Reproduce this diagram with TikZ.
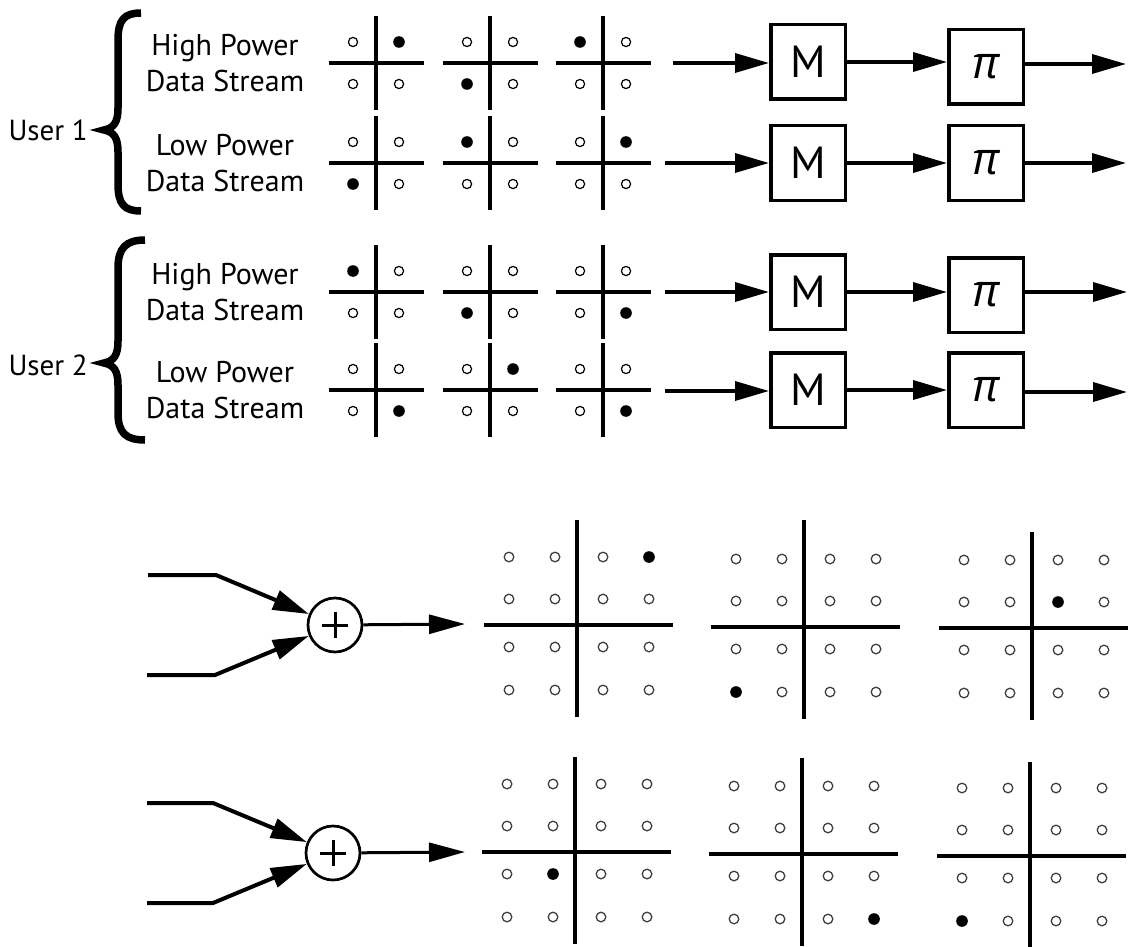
\documentclass[tikz,border=0pt]{standalone}
\usepackage{fontspec}
\setmainfont{PT Sans}
\newfontfamily\gkfont{Open Sans}
\usetikzlibrary{arrows.meta}
\newcommand\qpsk[4]{%
  \draw[qaxis] (#1-47.5,#2) -- (#1+47.5,#2);
  \draw[qaxis] (#1,#2-47) -- (#1,#2+47);
  \foreach \dx in {-23,23}{\foreach \dy in {-21,21}{\draw[odot] (#1+\dx,#2+\dy) circle[radius=4.6];}}
  \fill (#1+#3,#2+#4) circle[radius=5.8];
}
\newcommand\qam[5]{%
  \draw[maxis] (#1-93,#2) -- (#1+96,#2);
  \draw[maxis] (#1,#2-#3) -- (#1,#2+92);
  \foreach \dx in {-68,-22,26,72}{\foreach \dy in {-68,-26,22,65}{\draw[qdot] (#1+\dx,#2+\dy) circle[radius=4.8];}}
  \fill (#1+#4,#2+#5) circle[radius=5.8];
}
\begin{document}
\begin{tikzpicture}[x=1pt,y=-1pt,
  qaxis/.style={line width=3.6pt},
  maxis/.style={line width=3.2pt},
  odot/.style={line width=1.2pt, draw=black},
  qdot/.style={line width=1.3pt, draw=black!75},
  lbl/.style={align=center, font=\fontsize{30}{36}\selectfont, inner sep=0pt},
  user/.style={font=\fontsize{29}{36}\selectfont, inner sep=0pt, anchor=east},
  blk/.style={draw, line width=3.5pt, minimum size=74.5pt, inner sep=0pt, font=\fontsize{45}{50}\selectfont},
  arr/.style={line width=3.5pt, -{Triangle[length=34pt,width=19pt]}},
  inarr/.style={line width=4pt, -{Triangle[length=36pt,width=20pt]}},
  outarr/.style={line width=3pt, -{Triangle[length=36pt,width=19pt]}},
  adder/.style={circle, draw, line width=2.7pt, minimum size=54pt, inner sep=0pt},
  plus/.style={line width=3pt},
  brace/.style={line width=7.5pt},
]
\path[fill=white,use as bounding box] (0,0) rectangle (1129,947);

% user labels and braces
\node[user] (user1) at (88,130) {User 1};
\node[user] (user2) at (88,365) {User 2};
\draw[brace] (141,13) .. controls (124,13) and (118,20) .. (118,40) -- (118,108)
  .. controls (118,122) and (114,128) .. (104,130)
  .. controls (114,132) and (118,138) .. (118,152) -- (118,184)
  .. controls (118,204) and (124,211) .. (141,211);
\draw[brace] (145,240) .. controls (126,240) and (118,248) .. (118,268) -- (118,341)
  .. controls (118,355) and (114,361) .. (104,363)
  .. controls (114,365) and (118,371) .. (118,385) -- (118,413)
  .. controls (118,433) and (126,440) .. (145,440);

% stream labels
\node[lbl] (l1) at (225,63) {High Power\\Data Stream};
\node[lbl] (l2) at (225,163) {Low Power\\Data Stream};
\node[lbl] (l3) at (225,292) {High Power\\Data Stream};
\node[lbl] (l4) at (225,390) {Low Power\\Data Stream};

% QPSK constellations
\qpsk{376}{63}{23}{-21}  \qpsk{490}{63}{-23}{21}  \qpsk{603}{63}{-23}{-21}
\qpsk{376}{163}{-23}{21} \qpsk{490}{163}{-23}{-21} \qpsk{603}{163}{23}{-21}
\qpsk{376}{292}{-23}{-21} \qpsk{490}{292}{-23}{21} \qpsk{603}{292}{23}{21}
\qpsk{376}{390}{23}{21}  \qpsk{490}{390}{23}{-21}  \qpsk{603}{390}{23}{21}

% M and pi blocks
\node[blk] (m1) at (808,62) {M};
\node[blk] (m2) at (808,163) {M};
\node[blk] (m3) at (808,292) {M};
\node[blk] (m4) at (808,390) {M};
\node[blk] (p1) at (986,67) {\gkfont\itshape π};
\node[blk] (p2) at (986,163) {\gkfont\itshape π};
\node[blk] (p3) at (986,295) {\gkfont\itshape π};
\node[blk] (p4) at (986,390) {\gkfont\itshape π};

\coordinate (s1) at (673,63);
\coordinate (s2) at (665,163);
\coordinate (s3) at (665,292);
\coordinate (s4) at (665,391);
\coordinate (o1) at (1126,64);
\coordinate (o2) at (1126,163);
\coordinate (o3) at (1127,292);
\coordinate (o4) at (1127,392);

\draw[arr] (s1) -- (m1.west |- s1);
\draw[arr] (s2) -- (m2.west |- s2);
\draw[arr] (s3) -- (m3.west |- s3);
\draw[arr] (s4) -- (m4.west |- s4);
\draw[arr] (m1.east) -- (p1.west |- m1.east);
\draw[arr] (m2.east) -- (p2.west |- m2.east);
\draw[arr] (m3.east) -- (p3.west |- m3.east);
\draw[arr] (m4.east) -- (p4.west |- m4.east);
\draw[arr] (p1.east |- o1) -- (o1);
\draw[arr] (p2.east |- o2) -- (o2);
\draw[arr] (p3.east |- o3) -- (o3);
\draw[arr] (p4.east |- o4) -- (o4);

% adders
\node[adder] (a1) at (335,625) {};
\node[adder] (a2) at (333,853) {};
\draw[plus] ([xshift=-13pt]a1.center) -- ([xshift=13pt]a1.center);
\draw[plus] ([yshift=-13pt]a1.center) -- ([yshift=13pt]a1.center);
\draw[plus] ([xshift=-13pt]a2.center) -- ([xshift=13pt]a2.center);
\draw[plus] ([yshift=-13pt]a2.center) -- ([yshift=13pt]a2.center);

\coordinate (u1a) at (148,575); \coordinate (u1b) at (216,575);
\coordinate (d1a) at (147,675); \coordinate (d1b) at (215,675);
\coordinate (u2a) at (147,803); \coordinate (u2b) at (213,803);
\coordinate (d2a) at (147,903); \coordinate (d2b) at (213,903);
\coordinate (t1) at (465,624);
\coordinate (t2) at (465,852);

\draw[inarr] (u1a) -- (u1b) -- (a1);
\draw[inarr] (d1a) -- (d1b) -- (a1);
\draw[inarr] (u2a) -- (u2b) -- (a2);
\draw[inarr] (d2a) -- (d2b) -- (a2);
\draw[outarr] (a1) -- (t1);
\draw[outarr] (a2) -- (t2);

% 16-QAM constellations
\qam{577}{625}{105}{72}{-68}
\qam{804}{627}{107}{-68}{65}
\qam{1032}{628}{96}{26}{-26}
\qam{575}{852}{95}{-22}{22}
\qam{802}{854}{96}{72}{65}
\qam{1030}{856}{94}{-68}{65}
\end{tikzpicture}
\end{document}
